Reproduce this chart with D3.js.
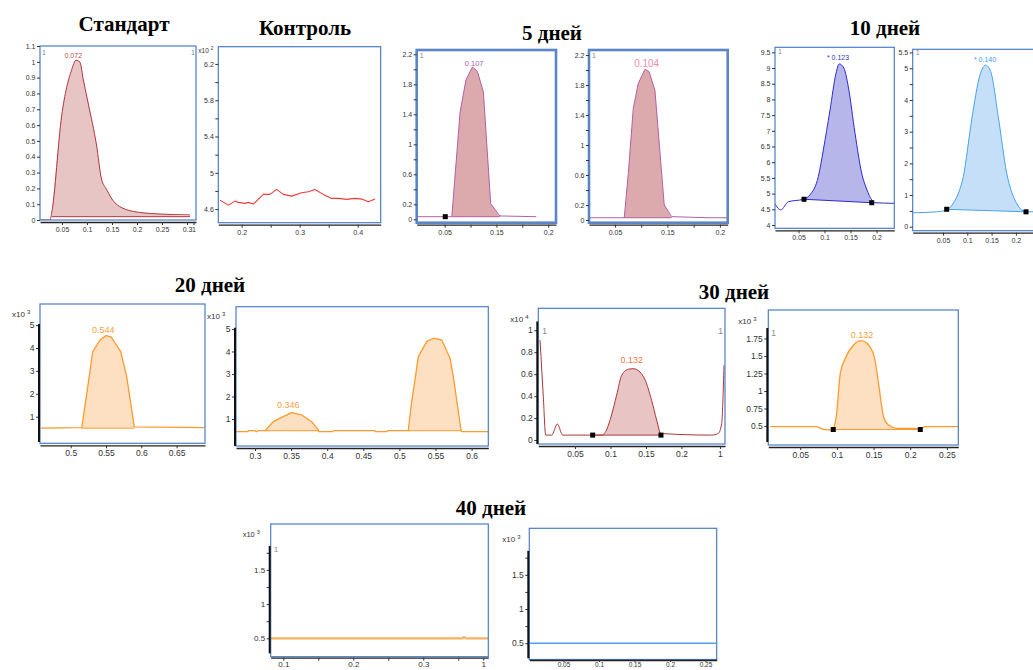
<!DOCTYPE html>
<html>
<head>
<meta charset="utf-8">
<script src="https://cdn.jsdelivr.net/npm/d3@7"></script>
<style>
  body { margin: 0; background: #fff; }
  svg { display: block; }
</style>
</head>
<body>
<script>
// Chromatogram traces, as [x, y] pairs
const standardTrace = [[0.006,0],[0.026,0],[0.0293,0.043],[0.0493,0.658],[0.0693,0.95],[0.078,1.01],[0.086,0.997],
  [0.0927,0.885],[0.1027,0.733],[0.119,0.474],[0.129,0.259],[0.139,0.194],[0.156,0.108],[0.193,0.054],[0.239,0.039],[0.306,0.032]];
const standardBase = [[0.0293,0.021],[0.306,0.021]];

const controlTrace = [[0.1626,4.699],[0.177,4.644],[0.1885,4.688],[0.194,4.674],[0.2057,4.663],[0.2115,4.674],[0.22,4.655],
  [0.2373,4.762],[0.2488,4.762],[0.2603,4.817],[0.2718,4.762],[0.2862,4.743],[0.3034,4.78],[0.315,4.791],[0.3264,4.817],
  [0.3407,4.762],[0.3552,4.718],[0.3667,4.718],[0.381,4.707],[0.3954,4.718],[0.407,4.71],[0.4184,4.68],[0.43,4.71]];

const day5aTrace = [[-0.004,0.035],[0.0638,0.035],[0.0798,1.43],[0.0912,1.86],[0.1038,2.03],[0.1133,1.97],[0.1248,1.70],
  [0.1389,0.21],[0.1566,0.045],[0.227,0.035]];
const day5aBase = [[0.0638,0.035],[0.1566,0.035]];
const day5aMarks = [[0.0512,0.035]];

const day5bTrace = [[0.0005,0.03],[0.0677,0.03],[0.0754,0.62],[0.0849,1.49],[0.0944,1.82],[0.1071,2.01],[0.1148,1.98],
  [0.1262,1.73],[0.1439,0.2],[0.158,0.045],[0.2277,0.03],[0.2649,0.03]];
const day5bBase = [[0.0677,0.03],[0.158,0.03]];

const day10aTrace = [[0.0048,4.67],[0.0158,4.48],[0.0304,4.74],[0.0592,4.82],[0.0721,4.96],[0.0881,5.54],[0.0977,6.39],
  [0.1106,7.66],[0.1221,8.83],[0.1285,9.13],[0.1375,8.99],[0.1458,8.4],[0.1587,6.92],[0.1715,5.65],[0.1812,5.14],
  [0.1908,4.80],[0.1971,4.71],[0.2342,4.69]];
const day10aBase = [[0.0606,4.82],[0.1908,4.71]];
const day10aMarks = [[0.0606,4.82],[0.1908,4.71]];

const day10bTrace = [[-0.0111,0.44],[0.037,0.47],[0.0576,0.53],[0.0712,0.74],[0.0815,1.05],[0.0918,1.58],[0.109,3.37],
  [0.1261,4.79],[0.1379,5.1],[0.1481,4.9],[0.1638,3.47],[0.1811,1.69],[0.1981,0.84],[0.2208,0.47],[0.2496,0.47]];
const day10bBase = [[0.0576,0.55],[0.2208,0.47]];
const day10bMarks = [[0.0576,0.55],[0.2208,0.47]];

const day20aTrace = [[0.4575,0.5],[0.5156,0.52],[0.5235,2.17],[0.5312,3.84],[0.5415,4.35],[0.55,4.54],[0.5571,4.49],
  [0.5708,3.84],[0.5793,2.75],[0.5901,0.56],[0.69,0.52]];
const day20aBase = [[0.5156,0.5],[0.5901,0.5]];

const day20bTrace = [[0.2737,0.44],[0.2765,0.44],[0.2903,0.44],[0.2905,0.48],[0.300,0.48],[0.302,0.43],[0.304,0.48],
  [0.3139,0.48],[0.3253,0.88],[0.3346,1.04],[0.3508,1.28],[0.3647,1.18],[0.3785,0.88],[0.3877,0.51],[0.3880,0.44],
  [0.408,0.44],[0.4085,0.48],[0.466,0.48],[0.4665,0.44],[0.483,0.44],[0.4835,0.48],[0.5123,0.48],[0.5161,1.55],
  [0.5262,3.77],[0.5378,4.44],[0.547,4.59],[0.5586,4.51],[0.5701,3.70],[0.5747,2.88],[0.5853,0.51],[0.586,0.44],[0.6231,0.44]];
const day20bBase1 = [[0.3139,0.48],[0.3877,0.48]];
const day20bBase2 = [[0.5123,0.48],[0.5853,0.48]];

const day30aTrace = [[0.0007,0.91],[0.0021,0.76],[0.0054,0.39],[0.0087,0.045],[0.0172,0.045],[0.0251,0.146],[0.0327,0.045],
  [0.0876,0.045],[0.0923,0.067],[0.1007,0.21],[0.1087,0.41],[0.1158,0.59],[0.1251,0.645],[0.1321,0.65],[0.1415,0.62],
  [0.1486,0.55],[0.158,0.36],[0.1651,0.18],[0.1707,0.06],[0.2425,0.045],[0.2518,0.06],[0.2566,0.15],[0.2599,0.68]];
const day30aBase = [[0.0749,0.045],[0.1711,0.045]];
const day30aMarks = [[0.0749,0.045],[0.1711,0.045]];

const day30bTrace = [[0.0091,0.49],[0.0705,0.49],[0.0818,0.453],[0.0933,0.443],[0.0991,0.633],[0.1046,1.253],[0.1114,1.467],
  [0.1227,1.657],[0.1328,1.719],[0.141,1.681],[0.1509,1.49],[0.1568,1.11],[0.1636,0.633],[0.1704,0.514],[0.1819,0.467],
  [0.2068,0.467],[0.2137,0.453],[0.2204,0.49],[0.2659,0.49]];
const day30bBase = [[0.095,0.45],[0.2137,0.45]];
const day30bMarks = [[0.095,0.45],[0.2137,0.45]];

const day40aTrace = [[0.082,0.5],[0.356,0.5],[0.358,0.52],[0.361,0.5],[0.3929,0.5]];
const day40bTrace = [[0.0018,0.5],[0.2658,0.5]];

// Tick values and labels
const standardYTicks = [0,0.1,0.2,0.3,0.4,0.5,0.6,0.7,0.8,0.9,1,1.1];
const standardXTicks = [0.05,0.1,0.15,0.2,0.25,0.3,0.313];
const standardXLabels = ['0.05','0.1','0.15','0.2','0.25','0.3','1'];
const controlYTicks = [4.6,4.8,5,5.2,5.4,5.6,5.8,6,6.2];
const controlYLabels = ['4.6','','5','','5.4','','5.8','','6.2'];
const controlXTicks = [0.2,0.25,0.3,0.35,0.4];
const controlXLabels = ['0.2','','0.3','','0.4'];
const day5YTicks = [0,0.2,0.4,0.6,0.8,1,1.2,1.4,1.6,1.8,2,2.2];
const day5YLabels = ['0','0.2','','0.6','','1','','1.4','','1.8','','2.2'];
const day5XTicks = [0.05,0.1,0.15,0.2,0.25];
const day5XLabels = ['0.05','','0.15','','0.2'];
const day10aYTicks = [4,4.5,5,5.5,6,6.5,7,7.5,8,8.5,9,9.5];
const day10bYTicks = [0,0.5,1,1.5,2,2.5,3,3.5,4,4.5,5,5.5];
const day10bYLabels = ['0','','1','','2','','3','','4','','5','5.5'];
const day10XTicks = [0.05,0.1,0.15,0.2];
const day20YTicks = [1,2,3,4,5];
const day20aXTicks = [0.5,0.55,0.6,0.65];
const day20bXTicks = [0.3,0.35,0.4,0.45,0.5,0.55,0.6];
const day30aYTicks = [0,0.2,0.4,0.6,0.8,1];
const day30aXTicks = [0.05,0.1,0.15,0.2,0.2542];
const day30aXLabels = ['0.05','0.1','0.15','0.2','1'];
const day30bYTicks = [0.5,0.75,1,1.25,1.5,1.75];
const day30bXTicks = [0.05,0.1,0.15,0.2,0.25];
const day40YTicks = [0.5,0.75,1,1.25,1.5,1.75];
const day40YLabels = ['0.5','','1','','1.5',''];
const day40aXTicks = [0.1,0.15,0.2,0.25,0.3,0.35,0.3857];
const day40aXLabels = ['0.1','','0.2','','0.3','','1'];
const day40bXTicks = [0.05,0.1,0.15,0.2,0.25];

const titles = ['Стандарт','Контроль','5 дней','10 дней','20 дней','30 дней','40 дней'];
const titlePos = [[124,31],[305,35],[552,40],[885,35],[210,292],[734,299],[491,515]];

const frameBlue = '#4b7dc9';
const orange = '#ff9a2e';
const orangeFill = '#fde0c2';
const smooth = d3.curveMonotoneX;

const panels = [
  { box:[40,46,196,220], xd:[0.006,0.318], yd:[0,1.1], trace:standardTrace, bases:[standardBase], curve:smooth,
    color:'#b3343c', fill:'#e8c5c5', yt:standardYTicks, xt:standardXTicks, xl:standardXLabels,
    label:{text:'0.072', x:0.0726, y:1.04, color:'#c0504a', size:7}, notes:[[2,9,'1'],[151,9,'1']], fs:7 },
  { box:[218.3,46.7,380.7,222.7], xd:[0.1597,0.4397], yd:[4.45,6.39], trace:controlTrace, bases:[],
    color:'#f03a3a', width:1.1, yt:controlYTicks, yl:controlYLabels, xt:controlXTicks, xl:controlXLabels,
    exp:'2', expAt:[-20,6], fs:7 },
  { box:[416.7,50,556,222.7], xd:[-0.004,0.2651], yd:[-0.045,2.257], trace:day5aTrace, bases:[day5aBase], marks:day5aMarks,
    color:'#b35fa5', fill:'#dcaaac', frameW:2.6, frameC:'#5a86c6', yt:day5YTicks, yl:day5YLabels, xt:day5XTicks, xl:day5XLabels,
    label:{text:'0.107', x:0.107, y:2.08, color:'#b060b8', size:7.5}, notes:[[3,8,'1']], fs:7 },
  { box:[589,50,727.7,222.7], xd:[0.0005,0.2649], yd:[-0.036,2.267], trace:day5bTrace, bases:[day5bBase],
    color:'#b35fa5', fill:'#dcaaac', frameW:2.6, frameC:'#5a86c6', yt:day5YTicks, yl:day5YLabels, xt:day5XTicks, xl:day5XLabels,
    label:{text:'0.104', x:0.1104, y:2.09, color:'#f58ab0', size:10}, notes:[[3,8,'1']], fs:7 },
  { box:[775,47.3,894.3,228.3], xd:[0.0048,0.2342], yd:[3.895,9.66], trace:day10aTrace, bases:[day10aBase], marks:day10aMarks,
    curve:smooth, color:'#2b2bd0', fill:'#b6b6ea', yt:day10aYTicks, xt:day10XTicks,
    label:{text:'* 0.123', x:0.126, y:9.32, color:'#3636c8', size:7}, notes:[[3,7,'1']], fs:7 },
  { box:[912.7,49.3,1040,230.7], xd:[-0.0123,0.2496], yd:[-0.126,5.6], trace:day10bTrace, bases:[day10bBase], marks:day10bMarks,
    curve:smooth, color:'#46a2ee', fill:'#c5dff8', yt:day10bYTicks, yl:day10bYLabels, xt:day10XTicks,
    label:{text:'* 0.140', x:0.1364, y:5.29, color:'#3c9ae8', size:7}, notes:[[3,6,'1']], fs:7 },
  { box:[40,304,205,443.3], xd:[0.4565,0.6902], yd:[-0.16,5.92], trace:day20aTrace, bases:[day20aBase],
    color:orange, fill:orangeFill, width:1.3, yt:day20YTicks, xt:day20aXTicks, axisLine:[-0.1,5.05],
    label:{text:'0.544', x:0.5462, y:4.79, color:'#f8a040', size:9}, exp:'3', expAt:[-28,13], fs:8.5 },
  { box:[236,306.7,488.3,446], xd:[0.2737,0.6231], yd:[-0.2,5.99], trace:day20bTrace, bases:[day20bBase1, day20bBase2],
    color:orange, fill:orangeFill, width:1.3, yt:day20YTicks, xt:day20bXTicks, axisLine:[-0.2,5.05],
    label:{text:'0.346', x:0.3461, y:1.62, color:'#f8a040', size:9}, exp:'3', expAt:[-29,12], fs:8.5 },
  { box:[538.3,308.3,725,444], xd:[-0.0017,0.2613], yd:[-0.036,1.2], trace:day30aTrace, bases:[day30aBase], marks:day30aMarks,
    curve:smooth, color:'#b03434', fill:'#e8c4c4', yt:day30aYTicks, xt:day30aXTicks, xl:day30aXLabels, axisLine:[-0.036,1.08],
    label:{text:'0.132', x:0.1299, y:0.73, color:'#f07848', size:9}, exp:'4', expAt:[-28,14],
    notes:[[4,26,'1'],[180,26,'1']], fs:8.5 },
  { box:[768.3,310,958.3,445], xd:[0.0064,0.2656], yd:[0.2286,2.157], trace:day30bTrace, bases:[day30bBase], marks:day30bMarks,
    curve:smooth, color:orange, fill:orangeFill, width:1.3, yt:day30bYTicks, xt:day30bXTicks, axisLine:[0.27,1.9],
    label:{text:'0.132', x:0.1342, y:1.8, color:'#f8a040', size:9}, exp:'3', expAt:[-30,14], notes:[[3,26,'1']], fs:8.5 },
  { box:[270.7,524,488.3,656.7], xd:[0.082,0.3929], yd:[0.231,2.171], trace:day40aTrace, bases:[],
    color:'#f9b062', width:2.2, yt:day40YTicks, yl:day40YLabels, xt:day40aXTicks, xl:day40aXLabels, axisLine:[0.28,1.85],
    exp:'3', expAt:[-28,13], notes:[[3,28,'1']], fs:8, xGap:1, xPad:1 },
  { box:[529.3,528.3,716.7,659.5], xd:[0.0018,0.2658], yd:[0.262,2.18], trace:day40bTrace, bases:[],
    color:'#4ea2f0', width:1.6, yt:day40YTicks, yl:day40YLabels, xt:day40bXTicks, axisLine:[0.28,1.85],
    exp:'3', expAt:[-27,14], fs:8.5, xFs:6.5, xGap:0.5, xPad:0, xTick:2 }
];

const svg = d3.select('body').append('svg')
  .attr('width', 1033).attr('height', 670)
  .style('font-family', 'Liberation Sans, Arial, sans-serif');

svg.append('rect').attr('width', 1033).attr('height', 670).attr('fill', '#fff');

function fillPoints(trace, base) {
  const inner = trace.filter((d) => d[0] > base[0][0] && d[0] < base[1][0]);
  return [base[0], ...inner, base[1]];
}

function drawPanel(p, i) {
  const [x0, y0, x1, y1] = p.box;
  const x = d3.scaleLinear().domain(p.xd).range([x0, x1]);
  const y = d3.scaleLinear().domain(p.yd).range([y1, y0]);
  const line = d3.line().x((d) => x(d[0])).y((d) => y(d[1]));
  const curveLine = d3.line().x((d) => x(d[0])).y((d) => y(d[1])).curve(p.curve || d3.curveLinear);
  const g = svg.append('g');

  g.append('clipPath').attr('id', `clip${i}`)
    .append('rect').attr('x', x0).attr('y', y0).attr('width', x1 - x0).attr('height', y1 - y0);
  const plot = g.append('g').attr('clip-path', `url(#clip${i})`);

  // filled peaks and their baselines
  p.bases.forEach((b) => {
    plot.append('path').attr('d', curveLine(fillPoints(p.trace, b)) + 'Z')
      .attr('fill', p.fill).attr('stroke', 'none');
    plot.append('path').attr('d', line(b))
      .attr('fill', 'none').attr('stroke', p.color).attr('stroke-width', 1);
  });

  plot.append('path').attr('d', curveLine(p.trace))
    .attr('fill', 'none').attr('stroke', p.color)
    .attr('stroke-width', p.width || 1).attr('stroke-linejoin', 'round');

  (p.marks || []).forEach((m) => {
    g.append('rect').attr('x', x(m[0]) - 2.5).attr('y', y(m[1]) - 2.5)
      .attr('width', 5).attr('height', 5).attr('fill', '#000');
  });

  // frame
  g.append('rect').attr('x', x0).attr('y', y0).attr('width', x1 - x0).attr('height', y1 - y0)
    .attr('fill', 'none').attr('stroke', p.frameC || frameBlue).attr('stroke-width', p.frameW || 1.2);

  // axes
  const yFmt = (d) => (p.yl ? p.yl[p.yt.indexOf(d)] : String(d));
  const xFmt = (d) => (p.xl ? p.xl[p.xt.indexOf(d)] : String(d));
  const ya = g.append('g').attr('transform', `translate(${x0 - (p.axisLine ? 1 : 0)},0)`)
    .call(d3.axisLeft(y).tickValues(p.yt).tickFormat(yFmt).tickSize(3).tickPadding(1.5))
    .style('font-size', p.fs + 'px');
  ya.select('.domain').remove();
  const xa = g.append('g').attr('transform', `translate(0,${y1 + (p.xGap ?? 2)})`)
    .call(d3.axisBottom(x).tickValues(p.xt).tickFormat(xFmt).tickSize(p.xTick ?? 3).tickSizeOuter(0)
      .tickPadding(p.xPad ?? 2))
    .style('font-size', (p.xFs || p.fs) + 'px');
  xa.select('.domain').attr('stroke', '#222').attr('stroke-width', 1.3);
  [ya, xa].forEach((a) => {
    a.selectAll('text').attr('fill', '#333');
    a.selectAll('.tick line').attr('stroke', '#333');
  });
  if (p.axisLine) {
    g.append('line').attr('x1', x0 - 1).attr('x2', x0 - 1)
      .attr('y1', y(p.axisLine[0])).attr('y2', y(p.axisLine[1]))
      .attr('stroke', '#111').attr('stroke-width', 2);
  }

  if (p.exp) {
    const t = g.append('text').attr('x', x0 + p.expAt[0]).attr('y', y0 + p.expAt[1])
      .attr('fill', '#333').style('font-size', (p.fs - 0.5) + 'px').text('x10');
    t.append('tspan').attr('dx', 2).attr('dy', -3).style('font-size', (p.fs - 2.5) + 'px').text(p.exp);
  }

  (p.notes || []).forEach((n) => {
    g.append('text').attr('x', x0 + n[0]).attr('y', y0 + n[1])
      .attr('fill', '#888').style('font-size', p.fs + 'px').text(n[2]);
  });

  if (p.label) {
    g.append('text').attr('x', x(p.label.x)).attr('y', y(p.label.y)).attr('dy', '0.35em')
      .attr('text-anchor', 'middle').attr('fill', p.label.color)
      .style('font-size', p.label.size + 'px').text(p.label.text);
  }
}

panels.forEach(drawPanel);

svg.append('g').selectAll('text')
  .data(titles)
  .join('text')
  .attr('x', (d, i) => titlePos[i][0])
  .attr('y', (d, i) => titlePos[i][1])
  .attr('text-anchor', 'middle')
  .style('font-family', 'Liberation Serif, Times New Roman, serif')
  .style('font-weight', 'bold')
  .style('font-size', '21px')
  .attr('fill', '#000')
  .text((d) => d);
</script>
</body>
</html>
